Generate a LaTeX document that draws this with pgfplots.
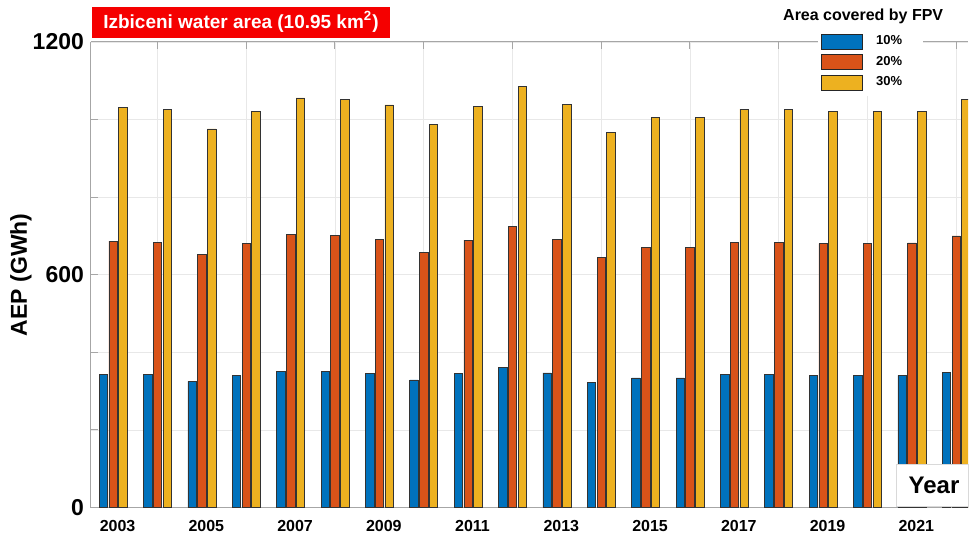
\documentclass[border=0pt]{standalone}
\usepackage{pgfplots}
\pgfplotsset{compat=1.18}
\usepackage{pgfplotstable}
\usepackage{fontspec}
\setmainfont{Liberation Sans}
\definecolor{cA}{rgb}{0,0.447,0.741}
\definecolor{cB}{rgb}{0.85,0.325,0.098}
\definecolor{cC}{rgb}{0.929,0.694,0.125}
\definecolor{titlered}{RGB}{245,0,0}
\pgfplotstableread{
year a b c
2003 344 687 1031
2004 343 683 1027
2005 325 652 976
2006 341 681 1021
2007 351 704 1056
2008 351 702 1052
2009 346 691 1038
2010 329 657 987
2011 346 689 1034
2012 361 724 1086
2013 347 692 1040
2014 322 645 966
2015 334 670 1005
2016 334 670 1005
2017 343 684 1027
2018 343 684 1027
2019 341 680 1022
2020 341 680 1022
2021 341 682 1022
2022 349 700 1051
}\datatable
\pgfplotsset{
  mybar/.style={ybar, bar width=0.19, fill=#1, draw=black!80, line width=0.3pt,
    legend image code/.code={\draw[fill=#1, draw=black!85, line width=0.4pt] (0pt,-3.75pt) rectangle (20.5pt,3.75pt);}},
}
\begin{document}
\begin{tikzpicture}
\begin{axis}[
  at={(0pt,0pt)}, anchor=south west,
  scale only axis, width=439pt, height=233pt,
  xmin=2002.5, xmax=2022.27, ymin=0, ymax=1200,
  clip mode=individual,
  axis y line*=left, axis x line*=box,
  ytick={0,600,1200}, minor ytick={200,400,800,1000},
  xtick={2004,2006,2008,2010,2012,2014,2016,2018,2020,2022},
  xticklabels={,,,,,,,,,},
  extra x ticks={2003.1,2005.1,2007.1,2009.1,2011.1,2013.1,2015.1,2017.1,2019.1,2021.1},
  extra x tick labels={2003,2005,2007,2009,2011,2013,2015,2017,2019,2021},
  extra x tick style={grid=none, major tick length=0pt},
  ymajorgrids, yminorgrids, xmajorgrids,
  grid style={gray!18, line width=0.4pt},
  minor grid style={gray!18, line width=0.4pt},
  axis line style={gray!70, line width=0.5pt},
  tick style={gray!70, line width=0.5pt},
  tick align=inside, major tick length=3.5pt, minor tick length=3.5pt,
  /pgf/number format/assume math mode=true,
  /pgf/number format/1000 sep={},
  yticklabel style={font=\fontsize{11.5}{12}\selectfont\bfseries},
  xticklabel style={font=\fontsize{8}{9}\selectfont\bfseries, yshift=-2.8pt},
  ylabel={AEP (GWh)},
  ylabel style={at={(axis description cs:-0.0797,0.5)}, anchor=center, font=\fontsize{11.5}{12}\selectfont\bfseries},
  legend style={at={(rel axis cs:0.828,1)}, anchor=north west, yshift=7pt,
    draw=none, fill=white, font=\fontsize{6.5}{7}\selectfont\bfseries,
    inner sep=1.5pt, row sep=0.3pt,
    /tikz/every odd column/.append style={column sep=4.8pt},
    nodes={text width=20pt, align=left}},
  legend cell align=left,
]
\addplot[mybar=cA, bar shift=-0.22] table[x=year, y=a] {\datatable};
\addplot[mybar=cB, bar shift=0] table[x=year, y=b] {\datatable};
\addplot[mybar=cC, bar shift=0.22] table[x=year, y=c] {\datatable};
\legend{10\%, 20\%, 30\%}
\node[fill=titlered, text=white, anchor=south west, font=\fontsize{9.5}{10}\selectfont\bfseries,
  minimum height=15.5pt, inner xsep=5.5pt, inner ysep=0pt, xshift=0.5pt, yshift=2pt]
  at (rel axis cs:0,1) {Izbiceni water area (10.95 km\textsuperscript{2})};
\node[anchor=base, font=\fontsize{8}{9}\selectfont\bfseries, yshift=10.5pt]
  at (rel axis cs:0.8803,1) {Area covered by FPV};
\node[fill=white, draw=gray!30, anchor=south west, font=\fontsize{12}{13}\selectfont\bfseries,
  minimum height=21pt, text width=24pt, inner xsep=6pt, align=left, yshift=0.5pt]
  at (rel axis cs:0.918,0) {Year};
\end{axis}
\path (-45.5pt,-14pt) rectangle (439pt,254pt);
\end{tikzpicture}
\end{document}
